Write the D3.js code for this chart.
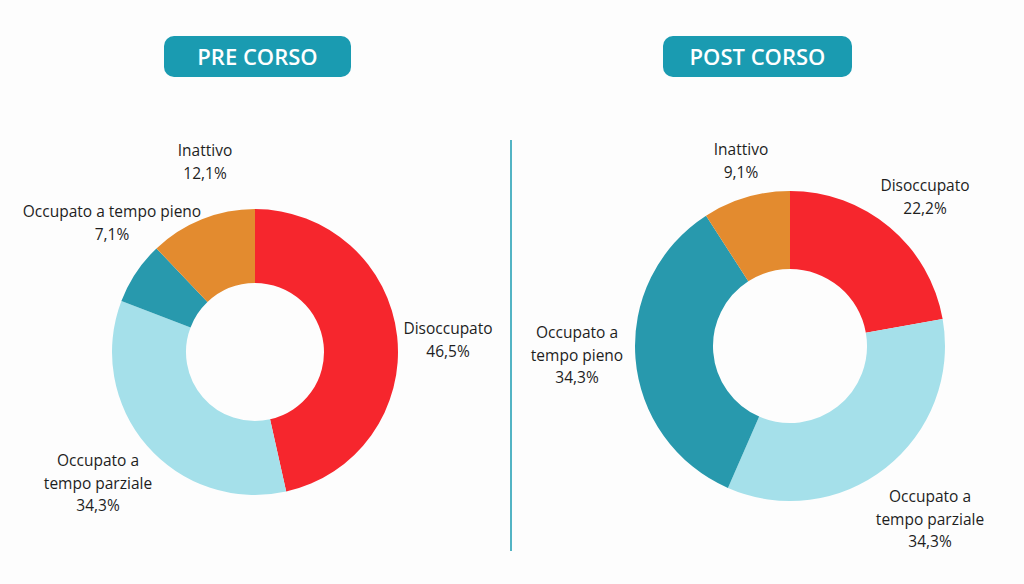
<!DOCTYPE html>
<html>
<head>
<meta charset="utf-8">
<script src="https://cdn.jsdelivr.net/npm/d3@7"></script>
<style>
  html, body { margin: 0; padding: 0; background: #fdfdfd; }
  svg { display: block; }
</style>
</head>
<body>
<div id="chart"></div>
<script>
// data
const categories = ['Disoccupato', 'Occupato a tempo parziale', 'Occupato a tempo pieno', 'Inattivo'];
const preValues = [46.5, 34.3, 7.1, 12.1];
const postValues = [22.2, 34.3, 34.3, 9.1];
const titles = ['PRE CORSO', 'POST CORSO'];

// look
const COLORS = ['#f6262d', '#a5e0ea', '#2899ad', '#e38b2f'];
const TEAL = '#1a9bb1';
const LABEL_FONT = '"Open Sans", "DejaVu Sans", sans-serif';

// per chart layout: donut centre, radii, title pill and label anchors (x, first line y, lines)
const charts = [
  {
    values: preValues, title: titles[0],
    cx: 255, cy: 352, outer: 143, inner: 69,
    pill: { cx: 257.5, y: 36, w: 187, h: 41 },
    labels: [
      { x: 448, y: 329, lines: ['Disoccupato'] },
      { x: 98, y: 461, lines: ['Occupato a', 'tempo parziale'] },
      { x: 112, y: 212, lines: ['Occupato a tempo pieno'] },
      { x: 205, y: 151, lines: ['Inattivo'] }
    ]
  },
  {
    values: postValues, title: titles[1],
    cx: 790, cy: 346, outer: 155, inner: 77,
    pill: { cx: 757.5, y: 36, w: 189, h: 41 },
    labels: [
      { x: 925, y: 186, lines: ['Disoccupato'] },
      { x: 930, y: 497, lines: ['Occupato a', 'tempo parziale'] },
      { x: 577, y: 333, lines: ['Occupato a', 'tempo pieno'] },
      { x: 741, y: 150, lines: ['Inattivo'] }
    ]
  }
];

const W = 1024, H = 584;
const LINE_H = 22.5;

const it = d3.formatLocale({ decimal: ',', thousands: '.', grouping: [3], currency: ['', '€'] });
const pct = v => it.format('.1f')(v) + '%';

const color = d3.scaleOrdinal().domain(categories).range(COLORS);

const svg = d3.select('#chart').append('svg')
  .attr('width', W)
  .attr('height', H)
  .attr('xmlns', 'http://www.w3.org/2000/svg');

svg.append('rect').attr('width', W).attr('height', H).attr('fill', '#fdfdfd');

// divider
svg.append('line')
  .attr('x1', 511).attr('x2', 511)
  .attr('y1', 140).attr('y2', 551)
  .attr('stroke', TEAL)
  .attr('stroke-width', 1.5);

const pie = d3.pie().sort(null).value(d => d.value);

charts.forEach(c => {
  // title pill
  const t = svg.append('g');
  t.append('rect')
    .attr('x', c.pill.cx - c.pill.w / 2)
    .attr('y', c.pill.y)
    .attr('width', c.pill.w)
    .attr('height', c.pill.h)
    .attr('rx', 10)
    .attr('fill', TEAL);
  t.append('text')
    .attr('x', c.pill.cx)
    .attr('y', c.pill.y + c.pill.h / 2 + 8)
    .attr('text-anchor', 'middle')
    .style('font-family', '"Open Sans", sans-serif')
    .style('font-weight', 600)
    .style('font-size', '22px')
    .attr('fill', '#ffffff')
    .text(c.title);

  const data = categories.map((k, i) => ({ key: k, value: c.values[i] }));
  const arc = d3.arc().innerRadius(c.inner).outerRadius(c.outer);

  svg.append('g')
    .attr('transform', 'translate(' + c.cx + ',' + c.cy + ')')
    .selectAll('path')
    .data(pie(data))
    .enter().append('path')
    .attr('d', arc)
    .attr('fill', d => color(d.data.key));

  // labels
  const lab = svg.append('g')
    .selectAll('text')
    .data(data)
    .enter().append('text')
    .attr('text-anchor', 'middle')
    .style('font-family', LABEL_FONT)
    .style('font-size', '15.5px')
    .attr('fill', '#1e1e1e');

  lab.each(function (d, i) {
    const L = c.labels[i];
    const lines = L.lines.concat([pct(d.value)]);
    d3.select(this).selectAll('tspan')
      .data(lines)
      .enter().append('tspan')
      .attr('x', L.x)
      .attr('y', (s, j) => L.y + 5 + j * LINE_H)
      .text(s => s);
  });
});
</script>
</body>
</html>
